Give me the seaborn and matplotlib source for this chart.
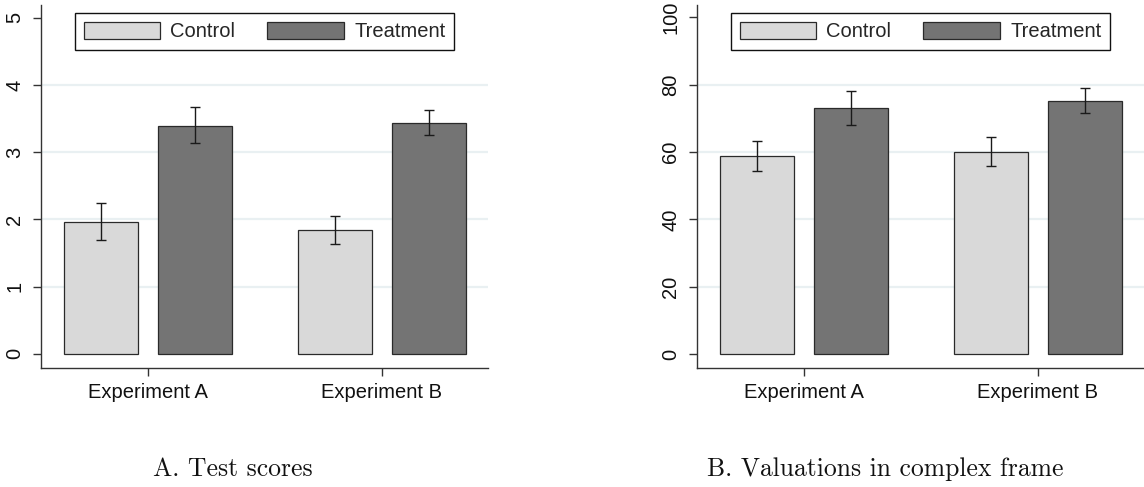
import matplotlib
matplotlib.use("Agg")
import matplotlib.pyplot as plt
from matplotlib.patches import Patch
import seaborn as sns
import pandas as pd
import numpy as np

# ---------------- data ----------------
experiments = ["Experiment A", "Experiment B"]
groups = ["Control", "Treatment"]

score_control = [1.96, 1.84]
score_control_lo = [1.69, 1.63]
score_control_hi = [2.24, 2.055]
score_treatment = [3.39, 3.44]
score_treatment_lo = [3.14, 3.26]
score_treatment_hi = [3.67, 3.63]

val_control = [58.7, 59.9]
val_control_lo = [54.4, 56.0]
val_control_hi = [63.3, 64.4]
val_treatment = [73.0, 75.1]
val_treatment_lo = [68.1, 71.5]
val_treatment_hi = [78.2, 78.9]

score_ticks = [0, 1, 2, 3, 4, 5]
val_ticks = [0, 20, 40, 60, 80, 100]

panel_titles = ["A. Test scores", "B. Valuations in complex frame"]

# ---------------- style ----------------
sns.set_style("white")
plt.rcParams["font.family"] = ["Liberation Sans", "DejaVu Sans"]

colors = {"Control": "#d9d9d9", "Treatment": "#747474"}
edge = "#2a2a2a"
grid_col = "#e9f0f2"
FS = 14.5

W, H = 1144, 487
fig = plt.figure(figsize=(W / 100, H / 100), dpi=100)


def px_axes(x0, y0, x1, y1):
    return fig.add_axes([x0 / W, 1 - y1 / H, (x1 - x0) / W, (y1 - y0) / H])


def make_df(c, clo, chi, t, tlo, thi):
    rows = []
    for i, e in enumerate(experiments):
        rows.append(dict(exp=e, grp="Control", v=c[i], lo=clo[i], hi=chi[i]))
        rows.append(dict(exp=e, grp="Treatment", v=t[i], lo=tlo[i], hi=thi[i]))
    return pd.DataFrame(rows)


def draw_panel(ax, df, ticks, ylim):
    sns.barplot(data=df, x="exp", y="v", hue="grp", order=experiments,
                hue_order=groups, palette=colors, errorbar=None,
                width=0.8, gap=0.21, edgecolor=edge, linewidth=0.9,
                legend=False, ax=ax, zorder=2)
    for cont, g in zip(ax.containers, groups):
        sub = df[df.grp == g].set_index("exp").loc[experiments]
        xs = [b.get_x() + b.get_width() / 2 for b in cont]
        ys = sub["v"].values
        yerr = np.vstack([ys - sub["lo"].values, sub["hi"].values - ys])
        ax.errorbar(xs, ys, yerr=yerr, fmt="none", ecolor="#1a1a1a",
                    elinewidth=1.0, capsize=3.5, capthick=1.0, zorder=3)
    ax.set_xlim(-0.456, 1.454)
    ax.set_ylim(*ylim)
    ax.set_yticks(ticks)
    ax.set_yticklabels([str(t) for t in ticks])
    ax.set_xlabel("")
    ax.set_ylabel("")
    ax.yaxis.grid(True, color=grid_col, linewidth=1.6, zorder=0)
    ax.set_axisbelow(True)
    gl = ax.get_ygridlines()
    gl[0].set_visible(False)
    gl[-1].set_visible(False)
    for s in ["top", "right"]:
        ax.spines[s].set_visible(False)
    for s in ["left", "bottom"]:
        ax.spines[s].set_color("#333333")
        ax.spines[s].set_linewidth(1.0)
    ax.tick_params(axis="both", which="major", length=6, width=1.0,
                   color="#333333", labelsize=FS, labelcolor="#111111",
                   left=True, bottom=True)
    ax.tick_params(axis="y", pad=6)
    ax.tick_params(axis="x", pad=5)
    for lab in ax.get_yticklabels():
        lab.set_rotation(90)
        lab.set_va("center")
        lab.set_ha("right")
    handles = [Patch(facecolor=colors[g], edgecolor=edge, linewidth=0.9, label=g)
               for g in groups]
    leg = ax.legend(handles=handles, loc="upper center", ncol=2,
                    bbox_to_anchor=(0.5, 1.0), borderaxespad=0.4,
                    fontsize=FS, frameon=True, fancybox=False,
                    handlelength=3.8, handleheight=0.95, handletextpad=0.5,
                    columnspacing=1.6, borderpad=0.42)
    leg.get_frame().set_edgecolor("#111111")
    leg.get_frame().set_linewidth(1.0)
    leg.get_frame().set_facecolor("white")
    leg.get_frame().set_alpha(1)


ax1 = px_axes(41, 5, 488, 368)
draw_panel(ax1, make_df(score_control, score_control_lo, score_control_hi,
                        score_treatment, score_treatment_lo, score_treatment_hi),
           score_ticks, (-0.21, 5.19))

ax2 = px_axes(697, 5, 1144, 368)
draw_panel(ax2, make_df(val_control, val_control_lo, val_control_hi,
                        val_treatment, val_treatment_lo, val_treatment_hi),
           val_ticks, (-4.16, 103.7))

fig.text(153 / W, 1 - 476 / H, panel_titles[0], family="cmr10", fontsize=18.5,
         ha="left", va="baseline", color="#111111")
fig.text(707 / W, 1 - 476 / H, panel_titles[1], family="cmr10", fontsize=18.5,
         ha="left", va="baseline", color="#111111")

fig.savefig("out.png", dpi=100, facecolor="white")
